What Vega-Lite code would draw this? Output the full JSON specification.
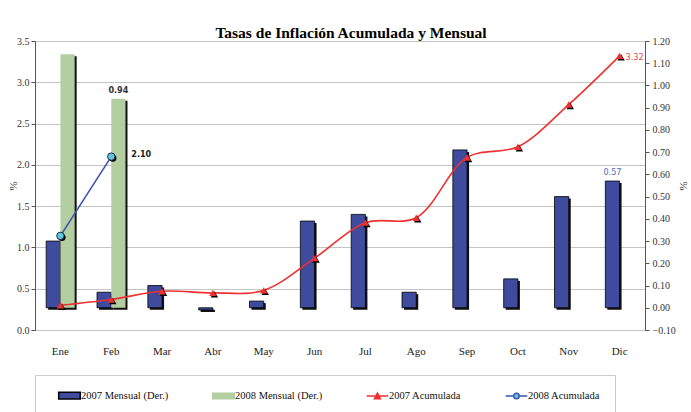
{
  "$schema": "https://vega.github.io/schema/vega-lite/v6.json",
  "width": 610,
  "height": 289,
  "autosize": {"type": "none"},
  "padding": {"left": 35, "top": 41, "right": 46, "bottom": 82},
  "background": "white",
  "title": {
    "text": "Tasas de Inflación Acumulada y Mensual",
    "font": "Liberation Serif",
    "fontSize": 15.5,
    "fontWeight": "bold",
    "color": "#000",
    "anchor": "middle",
    "dx": 11,
    "dy": 9,
    "offset": 4
  },
  "data": {
    "values": [
      {"mes": "Ene", "serie": "2007 Mensual (Der.)", "valor": 0.30},
      {"mes": "Feb", "serie": "2007 Mensual (Der.)", "valor": 0.07},
      {"mes": "Mar", "serie": "2007 Mensual (Der.)", "valor": 0.10},
      {"mes": "Abr", "serie": "2007 Mensual (Der.)", "valor": -0.01},
      {"mes": "May", "serie": "2007 Mensual (Der.)", "valor": 0.03},
      {"mes": "Jun", "serie": "2007 Mensual (Der.)", "valor": 0.39},
      {"mes": "Jul", "serie": "2007 Mensual (Der.)", "valor": 0.42},
      {"mes": "Ago", "serie": "2007 Mensual (Der.)", "valor": 0.07},
      {"mes": "Sep", "serie": "2007 Mensual (Der.)", "valor": 0.71},
      {"mes": "Oct", "serie": "2007 Mensual (Der.)", "valor": 0.13},
      {"mes": "Nov", "serie": "2007 Mensual (Der.)", "valor": 0.50},
      {"mes": "Dic", "serie": "2007 Mensual (Der.)", "valor": 0.57},
      {"mes": "Ene", "serie": "2008 Mensual (Der.)", "valor": 1.14},
      {"mes": "Feb", "serie": "2008 Mensual (Der.)", "valor": 0.94},
      {"mes": "Ene", "serie": "2007 Acumulada", "valor": 0.30},
      {"mes": "Feb", "serie": "2007 Acumulada", "valor": 0.37},
      {"mes": "Mar", "serie": "2007 Acumulada", "valor": 0.47},
      {"mes": "Abr", "serie": "2007 Acumulada", "valor": 0.45},
      {"mes": "May", "serie": "2007 Acumulada", "valor": 0.48},
      {"mes": "Jun", "serie": "2007 Acumulada", "valor": 0.87},
      {"mes": "Jul", "serie": "2007 Acumulada", "valor": 1.30},
      {"mes": "Ago", "serie": "2007 Acumulada", "valor": 1.36},
      {"mes": "Sep", "serie": "2007 Acumulada", "valor": 2.09},
      {"mes": "Oct", "serie": "2007 Acumulada", "valor": 2.22},
      {"mes": "Nov", "serie": "2007 Acumulada", "valor": 2.73},
      {"mes": "Dic", "serie": "2007 Acumulada", "valor": 3.32},
      {"mes": "Ene", "serie": "2008 Acumulada", "valor": 1.14},
      {"mes": "Feb", "serie": "2008 Acumulada", "valor": 2.10}
    ]
  },
  "config": {
    "view": {"stroke": "#666", "strokeWidth": 1},
    "axis": {
      "labelFont": "Liberation Serif",
      "labelFontSize": 10,
      "labelColor": "#333",
      "titleFont": "Liberation Serif",
      "titleFontWeight": "normal",
      "titleFontSize": 11,
      "titleColor": "#333",
      "domainColor": "#555",
      "tickColor": "#555",
      "gridColor": "#c4c4c4"
    },
    "legend": {
      "orient": "bottom",
      "direction": "horizontal",
      "columns": 4,
      "offset": 19,
      "labelFont": "Liberation Serif",
      "labelFontSize": 10.5,
      "labelColor": "#111",
      "symbolSize": 121,
      "symbolOpacity": 1,
      "symbolStrokeWidth": 1.5,
      "columnPadding": 34,
      "labelOffset": 19,
      "padding": 14,
      "strokeColor": "#cccccc"
    }
  },
  "encoding": {
    "x": {
      "field": "mes",
      "type": "nominal",
      "sort": ["Ene", "Feb", "Mar", "Abr", "May", "Jun", "Jul", "Ago", "Sep", "Oct", "Nov", "Dic"],
      "scale": {"paddingInner": 0.44, "paddingOuter": 0.22},
      "axis": {"title": null, "labelAngle": 0, "ticks": false, "domain": false, "labelPadding": 15, "labelFontSize": 11, "labelColor": "#222"}
    }
  },
  "layer": [
    {
      "encoding": {
        "y": {
          "field": "valor",
          "type": "quantitative",
          "scale": {"domain": [-0.1, 1.2], "nice": false, "zero": false},
          "axis": {
            "orient": "right",
            "title": "%",
            "titleAngle": 270,
            "titlePadding": 13,
            "values": [-0.1, 0, 0.1, 0.2, 0.3, 0.4, 0.5, 0.6, 0.7, 0.8, 0.9, 1.0, 1.1, 1.2],
            "format": ".2f",
            "grid": false,
            "tickSize": 4,
            "labelPadding": 3
          }
        }
      },
      "layer": [
        {
          "transform": [{"filter": "datum.serie == '2007 Mensual (Der.)' || datum.serie == '2008 Mensual (Der.)'"}],
          "mark": {"type": "bar", "color": "#111", "yOffset": 2},
          "encoding": {
            "xOffset": {
              "field": "serie",
              "type": "nominal",
              "scale": {"domain": ["2007 Mensual (Der.)", "2008 Mensual (Der.)"], "range": [2, 30.47], "paddingInner": 0, "paddingOuter": 0}
            }
          }
        },
        {
          "encoding": {
            "xOffset": {
              "field": "serie",
              "type": "nominal",
              "scale": {"domain": ["2007 Mensual (Der.)", "2008 Mensual (Der.)"], "paddingInner": 0, "paddingOuter": 0}
            }
          },
          "layer": [
            {
              "transform": [{"filter": "datum.serie == '2007 Mensual (Der.)'"}],
              "mark": {"type": "bar", "color": "#3F4C9D", "stroke": "#000", "strokeWidth": 0.8}
            },
            {
              "transform": [{"filter": "datum.serie == '2008 Mensual (Der.)'"}],
              "mark": {"type": "bar", "color": "#B3CFA2"}
            },
            {
              "transform": [{"filter": "datum.serie == '2008 Mensual (Der.)' && datum.mes == 'Feb'"}],
              "mark": {"type": "text", "font": "DejaVu Sans Condensed", "fontSize": 9, "fontWeight": "bold", "color": "#333", "baseline": "bottom", "dy": -4},
              "encoding": {"text": {"field": "valor", "type": "quantitative", "format": ".2f"}}
            },
            {
              "transform": [{"filter": "datum.serie == '2007 Mensual (Der.)' && datum.mes == 'Dic'"}],
              "mark": {"type": "text", "font": "DejaVu Sans Condensed", "fontSize": 9, "color": "#5566B5", "baseline": "bottom", "dy": -4},
              "encoding": {"text": {"field": "valor", "type": "quantitative", "format": ".2f"}}
            }
          ]
        }
      ],
      "resolve": {"scale": {"xOffset": "independent"}}
    },
    {
      "encoding": {
        "y": {
          "field": "valor",
          "type": "quantitative",
          "scale": {"domain": [0, 3.5], "nice": false},
          "axis": {
            "orient": "left",
            "title": "%",
            "titleAngle": 270,
            "titlePadding": -2,
            "values": [0, 0.5, 1, 1.5, 2, 2.5, 3, 3.5],
            "format": ".1f",
            "grid": true,
            "tickSize": 4,
            "labelPadding": 2
          }
        }
      },
      "layer": [
        {
          "transform": [{"filter": "datum.serie == '2007 Acumulada'"}],
          "mark": {"type": "line", "interpolate": "catmull-rom", "strokeWidth": 1.6, "color": "#EE3030"}
        },
        {
          "transform": [{"filter": "datum.serie == '2008 Acumulada'"}],
          "mark": {"type": "line", "strokeWidth": 1.6, "color": "#3A55B0"}
        },
        {
          "transform": [{"filter": "datum.serie == '2007 Acumulada'"}],
          "mark": {"type": "point", "shape": "triangle-up", "size": 55, "filled": true, "color": "#000", "opacity": 1, "xOffset": 1.5, "yOffset": 1.5}
        },
        {
          "transform": [{"filter": "datum.serie == '2007 Acumulada'"}],
          "mark": {"type": "point", "shape": "triangle-up", "size": 55, "filled": true, "color": "#EE3030", "opacity": 1}
        },
        {
          "transform": [{"filter": "datum.serie == '2008 Acumulada'"}],
          "mark": {"type": "point", "shape": "circle", "size": 55, "filled": true, "color": "#000", "opacity": 1, "xOffset": 1.5, "yOffset": 1.5}
        },
        {
          "transform": [{"filter": "datum.serie == '2008 Acumulada'"}],
          "mark": {"type": "point", "shape": "circle", "size": 55, "filled": true, "fill": "#5FC8D8", "stroke": "#1a2a50", "strokeWidth": 1, "opacity": 1}
        },
        {
          "transform": [{"filter": "datum.serie == '2007 Acumulada' || datum.serie == '2008 Acumulada'"}],
          "mark": {"type": "point", "filled": true, "opacity": 0, "strokeWidth": 1.5},
          "encoding": {
            "color": {
              "field": "serie",
              "type": "nominal",
              "scale": {
                "domain": ["2007 Mensual (Der.)", "2008 Mensual (Der.)", "2007 Acumulada", "2008 Acumulada"],
                "range": ["#3F4C9D", "#B3CFA2", "#EE3030", "#5FC8D8"]
              },
              "legend": {"title": null}
            },
            "stroke": {
              "field": "serie",
              "type": "nominal",
              "scale": {
                "domain": ["2007 Mensual (Der.)", "2008 Mensual (Der.)", "2007 Acumulada", "2008 Acumulada"],
                "range": ["#000000", "#B3CFA2", "#EE3030", "#3A55B0"]
              },
              "legend": {"title": null}
            },
            "shape": {
              "field": "serie",
              "type": "nominal",
              "scale": {
                "domain": ["2007 Mensual (Der.)", "2008 Mensual (Der.)", "2007 Acumulada", "2008 Acumulada"],
                "range": [
                  "M0.58,-0.6H4.5V0.6H0.58Z",
                  "M0.58,-0.5H4.5V0.5H0.58Z",
                  "M0.58,0H4.5M2.0,0.5L2.54,-0.5L3.08,0.5Z",
                  "M0.58,0H2.04M3.04,0H4.5M2.04,0A0.5,0.5 0 1,0 3.04,0A0.5,0.5 0 1,0 2.04,0Z"
                ]
              },
              "legend": {"title": null}
            }
          }
        },
        {
          "transform": [{"filter": "datum.serie == '2008 Acumulada' && datum.mes == 'Feb'"}],
          "mark": {"type": "text", "font": "DejaVu Sans Condensed", "fontSize": 9, "fontWeight": "bold", "color": "#222", "align": "left", "baseline": "middle", "dx": 20, "dy": -3},
          "encoding": {"text": {"field": "valor", "type": "quantitative", "format": ".2f"}}
        },
        {
          "transform": [{"filter": "datum.serie == '2007 Acumulada' && datum.mes == 'Dic'"}],
          "mark": {"type": "text", "font": "DejaVu Sans Condensed", "fontSize": 9, "color": "#F04848", "align": "left", "baseline": "middle", "dx": 6, "dy": 1},
          "encoding": {"text": {"field": "valor", "type": "quantitative", "format": ".2f"}}
        }
      ]
    }
  ],
  "resolve": {"scale": {"y": "independent"}}
}
